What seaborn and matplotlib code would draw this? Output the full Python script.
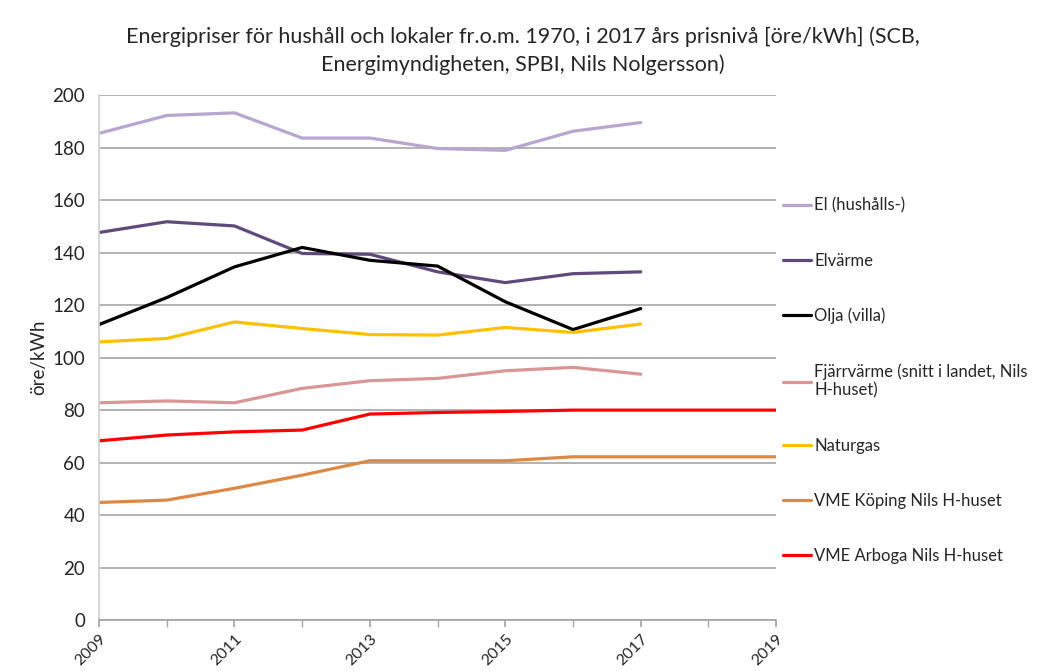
import matplotlib.pyplot as plt
import seaborn as sns
import pandas as pd
import numpy as np

years = list(range(2009, 2020))
nan = np.nan

el_hushall = [185.5, 192.3, 193.3, 183.7, 183.7, 179.7, 179.0, 186.3, 189.6, nan, nan]
elvarme = [147.7, 151.8, 150.2, 139.7, 139.4, 132.7, 128.6, 132.0, 132.7, nan, nan]
olja = [112.6, 122.9, 134.6, 142.0, 137.1, 134.9, 121.3, 110.7, 118.7, nan, nan]
fjarrvarme = [82.8, 83.5, 82.8, 88.3, 91.2, 92.1, 95.0, 96.3, 93.7, nan, nan]
naturgas = [106.0, 107.3, 113.6, 111.1, 108.8, 108.6, 111.5, 109.6, 112.8, nan, nan]
vme_koping = [44.8, 45.7, 50.2, 55.2, 60.7, 60.7, 60.7, 62.2, 62.2, 62.2, 62.2]
vme_arboga = [68.3, 70.5, 71.7, 72.4, 78.5, 79.1, 79.5, 80.0, 80.0, 80.0, 80.0]

series_names = [
    "El (hushålls-)",
    "Elvärme",
    "Olja (villa)",
    "Fjärrvärme (snitt i landet, Nils\nH-huset)",
    "Naturgas",
    "VME Köping Nils H-huset",
    "VME Arboga Nils H-huset",
]
series_values = [el_hushall, elvarme, olja, fjarrvarme, naturgas, vme_koping, vme_arboga]
colors = ["#b7a7d0", "#604a7b", "#000000", "#d99694", "#ffc000", "#dd8844", "#ff0000"]

df = pd.concat(
    [pd.DataFrame({"År": years, "pris": vals, "serie": name})
     for name, vals in zip(series_names, series_values)],
    ignore_index=True,
)

sns.set_theme(style="white")
plt.rcParams["font.family"] = ["Lato", "DejaVu Sans"]

fig = plt.figure(figsize=(10.46, 6.71), dpi=100)
ax = fig.add_axes([0.0947, 0.076, 0.6473, 0.782])

sns.lineplot(data=df, x="År", y="pris", hue="serie", hue_order=series_names,
             palette=colors, linewidth=2.3, ax=ax, legend=False)

ax.set_xlim(2009, 2019)
ax.set_ylim(0, 200)
ax.set_yticks(range(0, 201, 20))
ax.set_xticks(range(2009, 2020, 2))
ax.set_xticks(range(2009, 2020), minor=True)
ax.yaxis.grid(True, color="#a6a6a6", linewidth=1.2)
ax.set_axisbelow(True)
ax.tick_params(axis="y", labelsize=13.5, length=0, pad=10)
ax.tick_params(axis="x", which="both", bottom=True, length=5, color="#a6a6a6", labelsize=11.5)
for lbl in ax.get_xticklabels():
    lbl.set_rotation(45)
    lbl.set_ha("right")
    lbl.set_va("top")
    lbl.set_rotation_mode("anchor")
for s in ["top", "right"]:
    ax.spines[s].set_visible(False)
ax.spines["left"].set_color("#d0d0d0")
ax.spines["bottom"].set_color("#a6a6a6")
ax.set_xlabel("")
ax.set_ylabel("öre/kWh", fontsize=13.5)

handles = [plt.Line2D([], [], color=c, linewidth=2.3) for c in colors]
fig.legend(handles, series_names, loc="upper left", bbox_to_anchor=(0.742, 0.716),
           frameon=False, fontsize=12, handlelength=1.7, handletextpad=0.2,
           labelspacing=2.35, borderaxespad=0)

fig.suptitle("Energipriser för hushåll och lokaler fr.o.m. 1970, i 2017 års prisnivå [öre/kWh] (SCB,\n"
             "Energimyndigheten, SPBI, Nils Nolgersson)",
             x=0.5, y=0.96, fontsize=15.5, linespacing=1.4)

fig.savefig("out.png", dpi=100)
